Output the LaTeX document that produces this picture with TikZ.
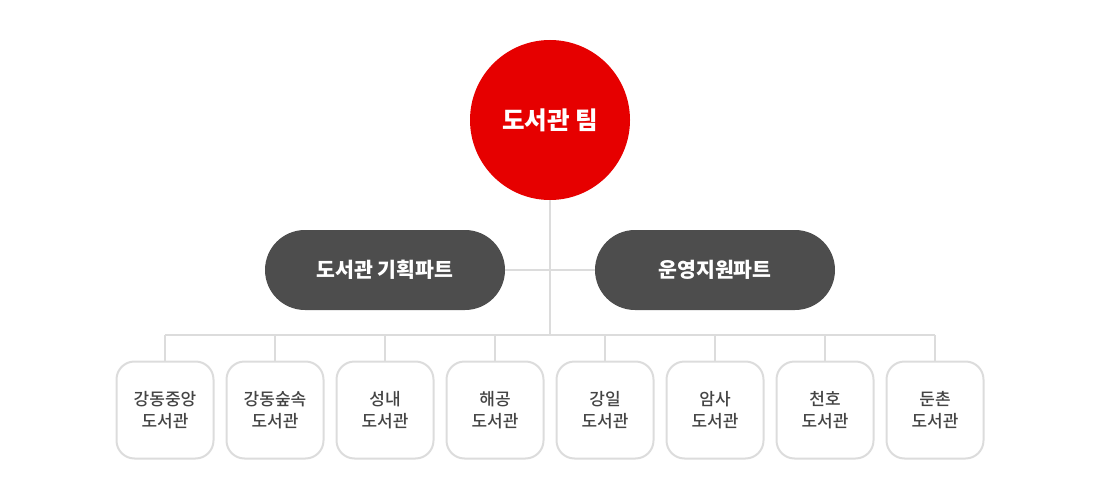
\documentclass[tikz,border=0pt]{standalone}
\usepackage{fontspec}
\setmainfont{Noto Sans CJK KR}
\newfontfamily\libfont{Noto Sans CJK KR Medium}
\definecolor{teamred}{HTML}{E60000}
\definecolor{partgray}{HTML}{4D4D4D}
\definecolor{linegray}{HTML}{DCDCDC}
\definecolor{libtext}{HTML}{444444}
\begin{document}
\begin{tikzpicture}[x=1pt,y=-1pt,
    team/.style={circle,fill=teamred,minimum size=160pt,inner sep=0pt,text=white,font=\fontsize{24.5}{28}\selectfont\bfseries},
    part/.style={rounded corners=40pt,fill=partgray,minimum width=240pt,minimum height=80pt,inner sep=0pt,text=white,font=\fontsize{20.5}{24}\selectfont\bfseries},
    lib/.style={draw=linegray,line width=2pt,rounded corners=18pt,fill=white,minimum size=97pt,inner sep=0pt,align=center,text=libtext,font=\fontsize{17}{22}\libfont},
    link/.style={draw=linegray,line width=2pt}]
    \useasboundingbox (0,0) rectangle (1100,500);
    \node[team] (team) at (550,120) {도서관 팀};
    \node[part] (plan) at (385,270) {도서관 기획파트};
    \node[part] (ops) at (715,270) {운영지원파트};
    \foreach \name [count=\i] in {강동중앙,강동숲속,성내,해공,강일,암사,천호,둔촌}
        \node[lib] (lib\i) at ({55+110*\i},410) {\name\\도서관};
    \coordinate (hub) at (550,335);
    \foreach \i in {1,...,8}
        \coordinate (bus\i) at (lib\i.north |- hub);
    \draw[link] (team.south) -- (hub);
    \draw[link] (plan.east) -- (ops.west);
    \draw[link] (bus1) -- (bus8);
    \foreach \i in {1,...,8}
        \draw[link] (bus\i) -- (lib\i.north);
\end{tikzpicture}
\end{document}
